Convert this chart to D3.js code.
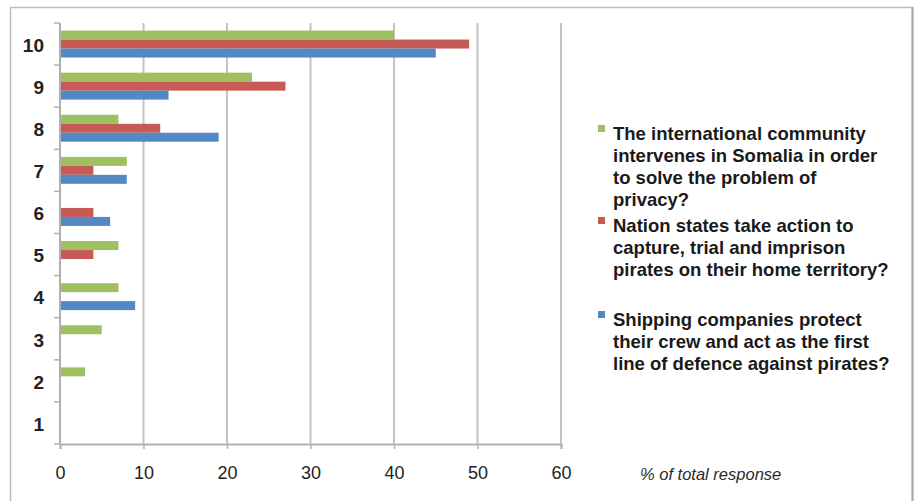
<!DOCTYPE html>
<html lang="en">
<head>
    <meta charset="utf-8">
    <title>Piracy responses</title>
    <script src="https://d3js.org/d3.v7.min.js"></script>
    <style>
        body {margin: 0; background: white; font-family: "Liberation Sans", Arial, sans-serif;}
        svg {display: block;}
    </style>
</head>
<body>
<svg id="chart"></svg>
<script>
    // rating categories, top to bottom
    var categories = ["10", "9", "8", "7", "6", "5", "4", "3", "2", "1"];

    var intlCommunity = [40, 23, 7, 8, 0, 7, 7, 5, 3, 0];
    var nationStates  = [49, 27, 12, 4, 4, 4, 0, 0, 0, 0];
    var shipping      = [45, 13, 19, 8, 6, 0, 9, 0, 0, 0];

    var xTicks = [0, 10, 20, 30, 40, 50, 60];

    var seriesNames = [
        ["The international community", "intervenes in Somalia in order", "to solve the problem of", "privacy?"],
        ["Nation states take action to", "capture, trial and imprison", "pirates on their home territory?"],
        ["Shipping companies protect", "their crew and act as the first", "line of defence against pirates?"]
    ];
    var colors = ["#9fc061", "#c85a56", "#5289c4"];

    var vWidth = 920, vHeight = 501;
    var svg = d3.select("#chart").attr("width", vWidth).attr("height", vHeight);

    // outer frame (no bottom edge visible)
    svg.append("path")
        .attr("d", "M10.5," + vHeight + "V7.5H912.5V" + vHeight)
        .attr("fill", "none")
        .attr("stroke", "#bdbdbd")
        .attr("stroke-width", 1.5);
    svg.append("line")
        .attr("x1", 912.5).attr("x2", 912.5).attr("y1", 7).attr("y2", vHeight)
        .attr("stroke", "#a8a8a8").attr("stroke-width", 2);

    var plotLeft = 60, plotRight = 561, plotTop = 23, plotBottom = 444;

    var x = d3.scaleLinear().domain([0, 60]).range([plotLeft, plotRight]);
    var y = d3.scaleBand().domain(categories).range([plotTop, plotBottom])
        .paddingInner(0.36).paddingOuter(0.18);
    var ySub = d3.scaleBand().domain([0, 1, 2]).range([0, y.bandwidth()]);

    // gridlines
    svg.append("g").selectAll("line")
        .data(xTicks.filter(function(d) { return d > 0; }))
        .enter().append("line")
        .attr("x1", function(d) { return x(d); })
        .attr("x2", function(d) { return x(d); })
        .attr("y1", plotTop).attr("y2", plotBottom)
        .attr("stroke", "#c4c4c4")
        .attr("stroke-width", 2);

    // bars
    var allSeries = [intlCommunity, nationStates, shipping];
    var barData = [];
    allSeries.forEach(function(vals, s) {
        vals.forEach(function(v, i) {
            barData.push({cat: categories[i], s: s, v: v});
        });
    });

    svg.append("g").selectAll("rect")
        .data(barData.filter(function(d) { return d.v > 0; }))
        .enter().append("rect")
        .attr("x", x(0))
        .attr("y", function(d) { return y(d.cat) + ySub(d.s); })
        .attr("width", function(d) { return x(d.v) - x(0); })
        .attr("height", ySub.bandwidth())
        .attr("fill", function(d) { return colors[d.s]; });

    // x axis
    var xAxis = d3.axisBottom(x).tickValues(xTicks).tickSize(5).tickPadding(17);
    var gx = svg.append("g").attr("transform", "translate(0," + plotBottom + ")").call(xAxis);
    gx.select(".domain").attr("stroke", "#b0b0b0").attr("stroke-width", 2);
    gx.selectAll(".tick line").attr("stroke", "#b0b0b0").attr("stroke-width", 1.5);
    gx.selectAll("text")
        .attr("font-family", "'Liberation Sans', Arial, sans-serif")
        .attr("font-size", 18)
        .attr("fill", "#222");

    // y axis: ticks at band boundaries
    var yAxisG = svg.append("g");
    yAxisG.append("line")
        .attr("x1", plotLeft).attr("x2", plotLeft).attr("y1", plotTop).attr("y2", plotBottom)
        .attr("stroke", "#b0b0b0").attr("stroke-width", 2);
    var step = y.step();
    yAxisG.selectAll(".ytick")
        .data(d3.range(categories.length + 1))
        .enter().append("line")
        .attr("class", "ytick")
        .attr("x1", plotLeft - 6).attr("x2", plotLeft)
        .attr("y1", function(i) { return plotTop + i * step; })
        .attr("y2", function(i) { return plotTop + i * step; })
        .attr("stroke", "#b0b0b0").attr("stroke-width", 1.5);
    yAxisG.selectAll(".ylabel")
        .data(categories)
        .enter().append("text")
        .attr("class", "ylabel")
        .attr("x", 44)
        .attr("y", function(d) { return y(d) + y.bandwidth() / 2 + 1; })
        .attr("dy", "0.36em")
        .attr("text-anchor", "end")
        .attr("font-size", 19)
        .attr("font-weight", "bold")
        .attr("fill", "#222")
        .text(function(d) { return d; });

    // axis title
    svg.append("text")
        .attr("x", 640).attr("y", 480)
        .attr("font-size", 16.5)
        .attr("font-style", "italic")
        .attr("fill", "#2a2a2a")
        .text("% of total response");

    // legend
    var legendTops = [133, 225, 319];
    var lg = svg.append("g");
    seriesNames.forEach(function(lines, s) {
        lg.append("rect")
            .attr("x", 598).attr("y", legendTops[s] - 8)
            .attr("width", 7).attr("height", 7)
            .attr("fill", colors[s]);
        lg.selectAll(".l" + s)
            .data(lines)
            .enter().append("text")
            .attr("x", 613)
            .attr("y", function(d, i) { return legendTops[s] + i * 22; })
            .attr("dy", "0.36em")
            .attr("font-size", 18.5)
            .attr("font-weight", "bold")
            .attr("fill", "#1a1a1a")
            .text(function(d) { return d; });
    });
</script>
</body>
</html>
